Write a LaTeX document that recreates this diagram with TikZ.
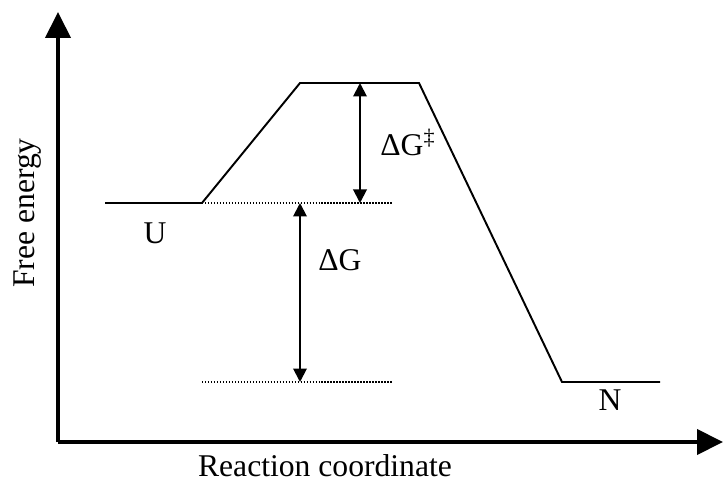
\documentclass[tikz,border=0pt]{standalone}
\usepackage{fontspec}
\setmainfont{Liberation Serif}
\usepackage{tikz}
\usetikzlibrary{arrows.meta, positioning, calc}

\begin{document}
\begin{tikzpicture}[
  every node/.style={font=\fontsize{18}{20}\selectfont, inner sep=0pt},
  axis/.style={line width=2.3pt, -{Triangle[width=0.5cm, length=0.52cm]}},
  profile/.style={line width=1.1pt, line join=miter},
  level/.style={line width=0.6pt, dash pattern=on 0.8pt off 0.9pt},
  gap/.style={line width=1.1pt, {Triangle[width=0.27cm, length=0.27cm]}-{Triangle[width=0.27cm, length=0.27cm]}},
]
  \useasboundingbox (-1.16,-0.94) rectangle (13.3,8.84);

  % Axes
  \coordinate (o) at (0,0);
  \coordinate (ytip) at (0,8.6);
  \coordinate (xtip) at (13.3,0);
  \draw[axis] (o) -- (ytip);
  \draw[axis] (o) -- (xtip);

  % Energy profile
  \coordinate (u0) at (0.94,4.78);
  \coordinate (u1) at (2.88,4.78);
  \coordinate (ts0) at (4.84,7.18);
  \coordinate (ts1) at (7.22,7.18);
  \coordinate (n0) at (10.08,1.2);
  \coordinate (n1) at (12.04,1.2);
  \draw[profile] (u0) -- (u1) -- (ts0) -- (ts1) -- (n0) -- (n1);

  % Reference levels
  \coordinate (lu) at (6.68,4.78);
  \coordinate (ln0) at (2.88,1.2);
  \coordinate (ln1) at (6.68,1.2);
  \draw[level] (u1) -- (lu);
  \draw[level] (ln0) -- (ln1);

  % Energy gaps
  \coordinate (ga0) at (6.04,7.18);
  \coordinate (ga1) at (6.04,4.78);
  \coordinate (gb0) at (4.84,4.78);
  \coordinate (gb1) at (4.84,1.2);
  \draw[gap] (ga0) -- (ga1);
  \draw[gap] (gb0) -- (gb1);

  % Labels
  \node[anchor=west] (dgts) at (6.44,6.0) {ΔG\textsuperscript{‡}};
  \node[anchor=west] (dg) at (5.2,3.64) {ΔG};
  \node (lblu) at (1.94,4.18) {U};
  \node (lbln) at (11.04,0.84) {N};
  \node[rotate=90] (ylab) at (-0.6,4.58) {Free energy};
  \node (xlab) at (5.34,-0.48) {Reaction coordinate};
\end{tikzpicture}
\end{document}
